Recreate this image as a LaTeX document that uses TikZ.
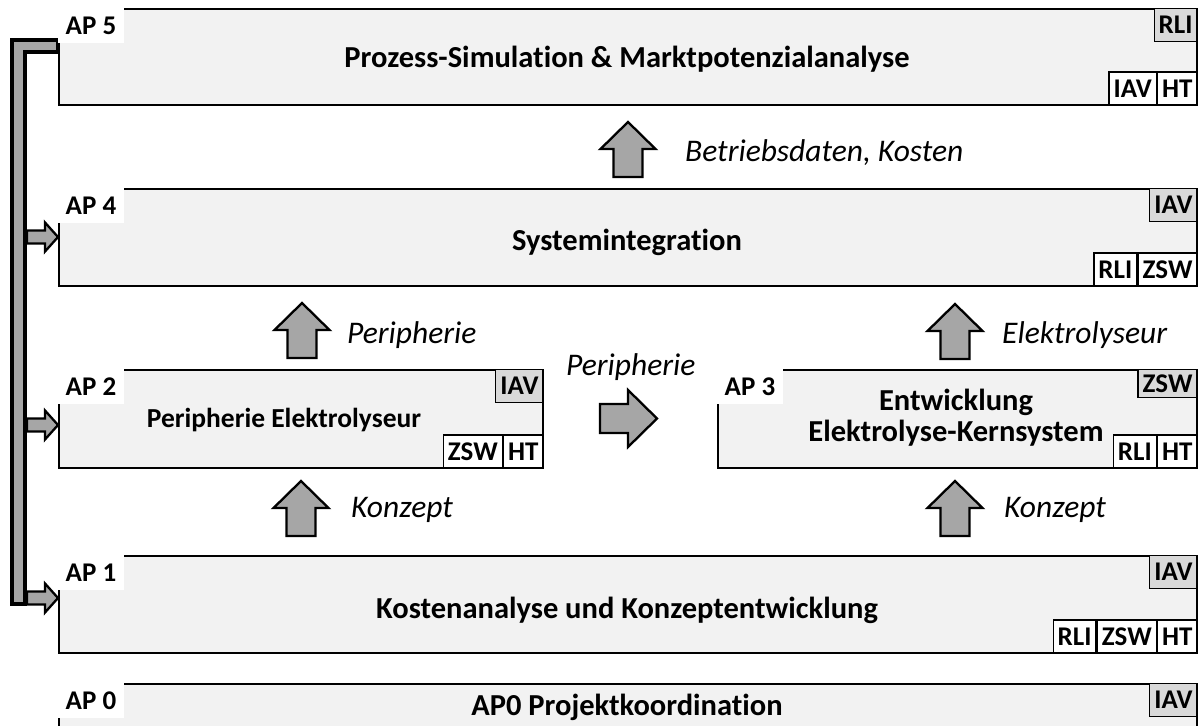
\documentclass[tikz,border=0pt]{standalone}
\usepackage{fontspec}
\setmainfont{Carlito}[Ligatures=NoCommon]
\definecolor{boxfill}{HTML}{F2F2F2}
\definecolor{taggray}{HTML}{D9D9D9}
\definecolor{arrgray}{HTML}{A6A6A6}
\tikzset{
 apbox/.style={draw=black, line width=1.6pt, fill=boxfill, anchor=north west, inner sep=0pt},
 aplabel/.style={fill=white, anchor=north west, font=\fontsize{27}{31}\selectfont\bfseries, inner xsep=7.5pt, inner ysep=0pt, minimum height=35pt},
 tagbase/.style={draw=black, line width=1.3pt, font=\fontsize{27}{31}\selectfont\bfseries, inner xsep=4.5pt, inner ysep=0pt, minimum height=33pt},
 taglead/.style={tagbase, fill=taggray, anchor=north east},
 tagpart/.style={tagbase, fill=white, anchor=south east},
 aptitle/.style={font=\fontsize{30.5}{35}\selectfont\bfseries, inner sep=0pt, anchor=base},
 flowlabel/.style={font=\fontsize{31.5}{36}\selectfont\itshape, inner sep=0pt, anchor=base west},
 blockarrow/.style={draw=black, line width=2.3pt, fill=arrgray, line join=miter},
 uparrow/.pic={\draw[blockarrow] (0,0) -- (27.5,27) -- (14.5,27) -- (14.5,55) -- (-14.5,55) -- (-14.5,27) -- (-27.5,27) -- cycle;},
 rightarrow/.pic={\draw[blockarrow] (0,-14.5) -- (28,-14.5) -- (28,-28.5) -- (57,0) -- (28,28.5) -- (28,14.5) -- (0,14.5) -- cycle;},
 sidearrow/.pic={\draw[blockarrow] (0,-6.5) -- (18,-6.5) -- (18,-14.5) -- (31,0) -- (18,14.5) -- (18,6.5) -- (0,6.5) -- cycle;},
}
\begin{document}
\begin{tikzpicture}[x=1pt,y=-1pt]
\clip (0,0) rectangle (1198,725);
% bracket on the left
\draw[line width=4pt, fill=arrgray, line join=miter] (12,40) -- (58,40) -- (58,52) -- (25,52) -- (25,604) -- (12,604) -- cycle;
\pic at (27,237) {sidearrow};
\pic at (27,425) {sidearrow};
\pic at (27,598) {sidearrow};

% boxes
\node[apbox, minimum width=1138pt, minimum height=96pt] (ap5) at (58,8) {};
\node[apbox, minimum width=1138pt, minimum height=97pt] (ap4) at (58,188) {};
\node[apbox, minimum width=484pt, minimum height=98pt] (ap2) at (58,369) {};
\node[apbox, minimum width=479pt, minimum height=98pt] (ap3) at (717,369) {};
\node[apbox, minimum width=1138pt, minimum height=97pt] (ap1) at (58,555) {};
\node[apbox, minimum width=1138pt, minimum height=80pt] (ap0) at (58,683) {};

% AP labels
\node[aplabel] (l5) at (ap5.north west) {AP 5};
\node[aplabel] (l4) at (ap4.north west) {AP 4};
\node[aplabel] (l2) at (ap2.north west) {AP 2};
\node[aplabel] (l3) at (ap3.north west) {AP 3};
\node[aplabel] (l1) at (ap1.north west) {AP 1};
\node[aplabel] (l0) at (ap0.north west) {AP 0};

% titles
\node[aptitle] (t5) at (627,67) {Prozess-Simulation \& Marktpotenzialanalyse};
\node[aptitle] (t4) at (627,250) {Systemintegration};
\node[aptitle, font=\fontsize{27.5}{32}\selectfont\bfseries] (t2) at (284,427) {Peripherie Elektrolyseur};
\node[aptitle] (t3a) at (956,410) {Entwicklung};
\node[aptitle] (t3b) at (956,441) {Elektrolyse-Kernsystem};
\node[aptitle] (t1) at (627,618) {Kostenanalyse und Konzeptentwicklung};
\node[aptitle] (t0) at (627,715) {AP0 Projektkoordination};

% tags
\node[taglead] (g5a) at (ap5.north east) {RLI};
\node[tagpart] (g5c) at (ap5.south east) {HT};
\node[tagpart] (g5b) at (g5c.south west) {IAV};

\node[taglead] (g4a) at (ap4.north east) {IAV};
\node[tagpart] (g4c) at (ap4.south east) {ZSW};
\node[tagpart] (g4b) at (g4c.south west) {RLI};

\node[taglead] (g2a) at (ap2.north east) {IAV};
\node[tagpart] (g2c) at (ap2.south east) {HT};
\node[tagpart] (g2b) at (g2c.south west) {ZSW};

\node[taglead, minimum height=28pt] (g3a) at (ap3.north east) {ZSW};
\node[tagpart] (g3c) at (ap3.south east) {HT};
\node[tagpart] (g3b) at (g3c.south west) {RLI};

\node[taglead] (g1a) at (ap1.north east) {IAV};
\node[tagpart] (g1d) at (ap1.south east) {HT};
\node[tagpart] (g1c) at (g1d.south west) {ZSW};
\node[tagpart] (g1b) at (g1c.south west) {RLI};

\node[taglead] (g0a) at (ap0.north east) {IAV};

% flow arrows
\pic at (628,122) {uparrow};
\pic at (302,303) {uparrow};
\pic at (955,304) {uparrow};
\pic at (301,481) {uparrow};
\pic at (955,481) {uparrow};
\pic at (600,418.5) {rightarrow};

% flow labels
\node[flowlabel] (f54) at (685,161) {Betriebsdaten, Kosten};
\node[flowlabel] (f24) at (347,343) {Peripherie};
\node[flowlabel] (f34) at (1002,343) {Elektrolyseur};
\node[flowlabel] (f12) at (351,517) {Konzept};
\node[flowlabel] (f13) at (1004,517) {Konzept};
\node[flowlabel] (f23) at (566,375) {Peripherie};
\end{tikzpicture}
\end{document}
